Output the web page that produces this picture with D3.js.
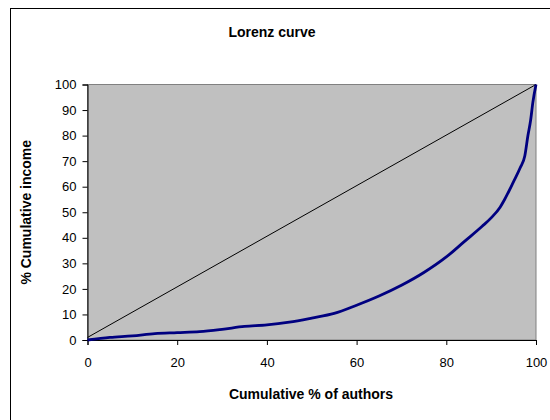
<!DOCTYPE html>
<html>
<head>
<meta charset="utf-8">
<script src="https://cdn.jsdelivr.net/npm/d3@7"></script>
<style>
  html, body { margin: 0; padding: 0; background: #ffffff; }
  svg { display: block; font-family: "Liberation Sans", Arial, sans-serif; }
</style>
</head>
<body>
<svg id="chart" width="550" height="420"></svg>
<script>
// Lorenz curve data (cumulative % of authors vs cumulative % income)
const authorsPct = [0, 5, 10, 15, 20, 25, 30, 35, 40, 45, 50, 55, 60, 65, 70, 75, 80, 84, 88, 90, 92, 93, 95, 96.5, 97.5, 98.2, 98.8, 99.3, 100];
const incomePct  = [0, 1.0, 1.6, 2.5, 2.9, 3.3, 4.2, 5.3, 5.9, 7.0, 8.6, 10.4, 13.6, 17.2, 21.4, 26.4, 32.5, 38.5, 44.5, 47.8, 52, 55, 62, 67.5, 72, 80, 86, 93, 100];
// Line of equality
const equalityX = [0, 100];
const equalityY = [1, 100];
const xTicks = [0, 20, 40, 60, 80, 100];
const yTicks = [0, 10, 20, 30, 40, 50, 60, 70, 80, 90, 100];
const titleText = "Lorenz curve";
const xTitle = "Cumulative % of authors";
const yTitle = "% Cumulative income";

(function () {
const svg = d3.select("#chart");
const pLeft = 87.5, pRight = 536, pTop = 84.5, pBottom = 340;

// outer frame (extends past the window)
svg.append("rect").attr("x", 10.5).attr("y", 8.5).attr("width", 600).attr("height", 500)
  .attr("fill", "#fff").attr("stroke", "#000").attr("stroke-width", 1);

const x = d3.scaleLinear().domain([0, 100]).range([pLeft, pRight]);
const y = d3.scaleLinear().domain([0, 100]).range([pBottom, pTop]);

// plot area
svg.append("rect").attr("x", pLeft).attr("y", pTop).attr("width", pRight - pLeft).attr("height", pBottom - pTop)
  .attr("fill", "#c0c0c0").attr("stroke", "#808080").attr("stroke-width", 1);

// axes
const xAxis = d3.axisBottom(x).tickValues(xTicks).tickSize(5).tickPadding(13).tickFormat(d3.format("d"));
const yAxis = d3.axisLeft(y).tickValues(yTicks).tickSize(5).tickPadding(6).tickFormat(d3.format("d"));

const gx = svg.append("g").attr("transform", `translate(0,${pBottom})`).call(xAxis);
const gy = svg.append("g").attr("transform", `translate(${pLeft},0)`).call(yAxis);
[gx, gy].forEach(g => {
  g.selectAll("path.domain").attr("stroke", "#000").attr("stroke-width", 1);
  g.selectAll(".tick line").attr("stroke", "#000");
  g.selectAll(".tick text").attr("fill", "#000").attr("font-size", 13)
    .attr("font-family", "'Liberation Sans', Arial, sans-serif");
});

// equality line
const eq = equalityX.map((v, i) => [v, equalityY[i]]);
svg.append("path").datum(eq)
  .attr("d", d3.line().x(d => x(d[0])).y(d => y(d[1])))
  .attr("fill", "none").attr("stroke", "#000").attr("stroke-width", 1);

// Lorenz curve
const pts = authorsPct.map((v, i) => [v, incomePct[i]]);
svg.append("path").datum(pts)
  .attr("d", d3.line().x(d => x(d[0])).y(d => y(d[1])).curve(d3.curveMonotoneX))
  .attr("fill", "none").attr("stroke", "#000080").attr("stroke-width", 2.8)
  .attr("stroke-linejoin", "round");

// titles
svg.append("text").attr("x", 272).attr("y", 37).attr("text-anchor", "middle")
  .attr("font-size", 14).attr("font-weight", "bold").text(titleText);
svg.append("text").attr("x", 311).attr("y", 399).attr("text-anchor", "middle")
  .attr("font-size", 14).attr("font-weight", "bold").text(xTitle);
svg.append("text").attr("transform", `translate(31,${(pTop + pBottom) / 2}) rotate(-90)`)
  .attr("text-anchor", "middle")
  .attr("font-size", 14).attr("font-weight", "bold").text(yTitle);
})();
</script>
</body>
</html>
